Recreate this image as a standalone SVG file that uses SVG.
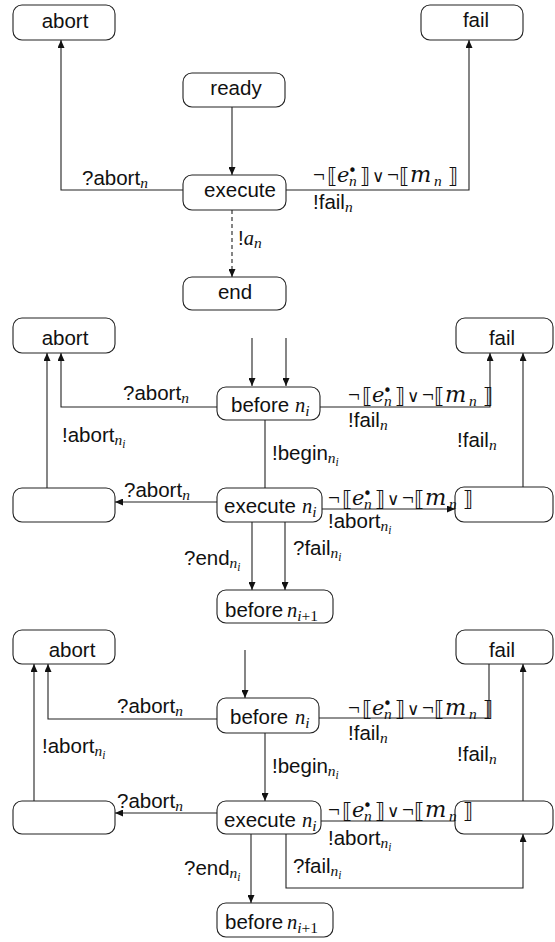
<svg xmlns="http://www.w3.org/2000/svg" width="555" height="942" viewBox="0 0 555 942">
  <style>
    .box { fill: #ffffff; stroke: #222222; stroke-width: 1.1; }
    .edge { fill: none; stroke: #222222; stroke-width: 1.1; }
    .dash { stroke-dasharray: 4 3; }
    text { font-family: "Liberation Sans", Arial, Helvetica, sans-serif; font-size: 20.5px; fill: #111111; }
    .c { text-anchor: middle; }
    .mi { font-family: "Liberation Serif", "DejaVu Serif", serif; font-style: italic; }
    .mw { font-family: "DejaVu Serif", serif; font-style: italic; font-size: 21px; }
    .mm { font-family: "DejaVu Serif", serif; font-style: italic; font-size: 22.5px; }
    .up { font-family: "Liberation Serif", "DejaVu Serif", serif; }
    .br { font-family: "DejaVu Sans", sans-serif; font-size: 21px; }
    .or { font-family: "DejaVu Sans", sans-serif; font-size: 17px; font-weight: 200; }
    .neg { font-family: "Liberation Serif", "DejaVu Serif", serif; font-size: 21px; }
    .bul { font-family: "DejaVu Sans", sans-serif; font-size: 15px; }
    .s1 { font-size: 15.5px; }
    .s2 { font-size: 11.5px; }
  </style>
  <defs>
    <marker id="arr" markerWidth="8" markerHeight="7" refX="8" refY="3.5" orient="auto" markerUnits="userSpaceOnUse">
      <path d="M0,0 L8,3.5 L0,7 z" fill="#111111"/>
    </marker>
  </defs>

  <!-- connectors -->
  <g id="edges">
    <!-- panel 1 -->
    <path class="edge" d="M232,107 V175" marker-end="url(#arr)"/>
    <path class="edge" d="M183,190 H61 V40" marker-end="url(#arr)"/>
    <path class="edge" d="M286,190 H469 V40" marker-end="url(#arr)"/>
    <path class="edge dash" d="M232,210 V277" marker-end="url(#arr)"/>
    <!-- panel 2 -->
    <path class="edge" d="M252,338 V386" marker-end="url(#arr)"/>
    <path class="edge" d="M286,338 V386" marker-end="url(#arr)"/>
    <path class="edge" d="M217,407 H61 V353" marker-end="url(#arr)"/>
    <path class="edge" d="M320,407 H490 V353" marker-end="url(#arr)"/>
    <path class="edge" d="M265,420 V488"/>
    <path class="edge" d="M47,488 V353" marker-end="url(#arr)"/>
    <path class="edge" d="M217,502 H115" marker-end="url(#arr)"/>
    <path class="edge" d="M322,509 H455" marker-end="url(#arr)"/>
    <path class="edge" d="M523,487 V353" marker-end="url(#arr)"/>
    <path class="edge" d="M252,522 V590" marker-end="url(#arr)"/>
    <path class="edge" d="M285,522 V590" marker-end="url(#arr)"/>
    <!-- panel 3 -->
    <path class="edge" d="M245,650 V698" marker-end="url(#arr)"/>
    <path class="edge" d="M217,719 H48 V664" marker-end="url(#arr)"/>
    <path class="edge" d="M319,718 H489 V664"/>
    <path class="edge" d="M265,733 V801" marker-end="url(#arr)"/>
    <path class="edge" d="M34,801 V664" marker-end="url(#arr)"/>
    <path class="edge" d="M217,813 H115" marker-end="url(#arr)"/>
    <path class="edge" d="M321,821 H455"/>
    <path class="edge" d="M523,801 V664" marker-end="url(#arr)"/>
    <path class="edge" d="M251,834 V903" marker-end="url(#arr)"/>
    <path class="edge" d="M286,834 V888 H523 V834" marker-end="url(#arr)"/>
  </g>

  <!-- panel 1 nodes -->
  <g id="p1-abort"><rect class="box" x="13" y="5" width="102" height="35" rx="9"/><text class="c" x="65" y="28">abort</text></g>
  <g id="p1-fail"><rect class="box" x="421" y="5" width="102" height="35" rx="9"/><text class="c" x="476" y="27">fail</text></g>
  <g id="p1-ready"><rect class="box" x="183" y="73" width="102" height="34" rx="9"/><text class="c" x="236" y="95">ready</text></g>
  <g id="p1-execute"><rect class="box" x="183" y="175" width="103" height="35" rx="9"/><text class="c" x="240" y="197">execute</text></g>
  <g id="p1-end"><rect class="box" x="183" y="277" width="103" height="33" rx="9"/><text class="c" x="235" y="299">end</text></g>

  <!-- panel 2 nodes -->
  <g id="p2-abort"><rect class="box" x="13" y="318" width="102" height="35" rx="9"/><text class="c" x="65" y="345">abort</text></g>
  <g id="p2-fail"><rect class="box" x="456" y="318" width="97" height="35" rx="9"/><text class="c" x="502" y="345">fail</text></g>
  <g id="p2-before"><rect class="box" x="217" y="387" width="103" height="33" rx="9"/><text x="231" y="412">before<tspan class="mi" x="295">n</tspan><tspan class="mi s1" dy="4">i</tspan></text></g>
  <g id="p2-aborted"><rect class="box" x="13" y="488" width="102" height="34" rx="9"/></g>
  <g id="p2-execute"><rect class="box" x="217" y="488" width="105" height="34" rx="9"/><text x="224" y="513">execute<tspan class="mi" x="302">n</tspan><tspan class="mi s1" dy="4">i</tspan></text></g>
  <g id="p2-failed"><rect class="box" x="455" y="487" width="98" height="35" rx="9"/></g>
  <g id="p2-next"><rect class="box" x="217" y="590" width="116" height="33" rx="9"/><text x="225" y="617">before<tspan class="mi" x="287">n</tspan><tspan class="mi s1" dy="4">i</tspan><tspan class="up s1">+1</tspan></text></g>

  <!-- panel 3 nodes -->
  <g id="p3-abort"><rect class="box" x="13" y="630" width="102" height="34" rx="9"/><text class="c" x="72" y="657">abort</text></g>
  <g id="p3-fail"><rect class="box" x="456" y="630" width="97" height="34" rx="9"/><text class="c" x="502" y="657">fail</text></g>
  <g id="p3-before"><rect class="box" x="217" y="698" width="102" height="35" rx="9"/><text x="230" y="724">before<tspan class="mi" x="295">n</tspan><tspan class="mi s1" dy="4">i</tspan></text></g>
  <g id="p3-aborted"><rect class="box" x="13" y="801" width="102" height="33" rx="9"/></g>
  <g id="p3-execute"><rect class="box" x="217" y="801" width="104" height="33" rx="9"/><text x="224" y="827">execute<tspan class="mi" x="302">n</tspan><tspan class="mi s1" dy="4">i</tspan></text></g>
  <g id="p3-failed"><rect class="box" x="455" y="801" width="98" height="33" rx="9"/></g>
  <g id="p3-next"><rect class="box" x="217" y="903" width="116" height="34" rx="9"/><text x="225" y="929">before<tspan class="mi" x="287">n</tspan><tspan class="mi s1" dy="4">i</tspan><tspan class="up s1">+1</tspan></text></g>

  <!-- edge labels -->
  <g id="labels">
    <!-- panel 1 -->
    <text x="82" y="185">?abort<tspan class="mi s1" dy="3">n</tspan></text>
    <text transform="translate(313,182)"><tspan class="neg" x="0" y="0">¬</tspan><tspan class="br" x="14" y="1">⟦</tspan><tspan class="mw" x="24" y="0">e</tspan><tspan class="bul" x="35" y="-6">•</tspan><tspan class="mi s1" x="36" y="4">n</tspan><tspan class="br" x="47" y="1">⟧</tspan><tspan class="or" x="59" y="0">∨</tspan><tspan class="neg" x="74" y="0">¬</tspan><tspan class="br" x="86" y="1">⟦</tspan><tspan class="mm" x="97" y="0">m</tspan><tspan class="mi s1" x="121" y="4">n</tspan><tspan class="br" x="135" y="1">⟧</tspan></text>
    <text x="313" y="209">!fail<tspan class="mi s1" dy="3">n</tspan></text>
    <text x="238" y="245">!<tspan class="mi">a</tspan><tspan class="mi s1" dy="3">n</tspan></text>

    <!-- panel 2 -->
    <text x="123" y="400">?abort<tspan class="mi s1" dy="3">n</tspan></text>
    <text transform="translate(348,402)"><tspan class="neg" x="0" y="0">¬</tspan><tspan class="br" x="14" y="1">⟦</tspan><tspan class="mw" x="24" y="0">e</tspan><tspan class="bul" x="35" y="-6">•</tspan><tspan class="mi s1" x="36" y="4">n</tspan><tspan class="br" x="47" y="1">⟧</tspan><tspan class="or" x="59" y="0">∨</tspan><tspan class="neg" x="74" y="0">¬</tspan><tspan class="br" x="86" y="1">⟦</tspan><tspan class="mm" x="97" y="0">m</tspan><tspan class="mi s1" x="121" y="4">n</tspan><tspan class="br" x="135" y="1">⟧</tspan></text>
    <text x="348" y="427">!fail<tspan class="mi s1" dy="3">n</tspan></text>
    <text x="62" y="442">!abort<tspan class="mi s1" dy="3">n</tspan><tspan class="mi s2" dy="3">i</tspan></text>
    <text x="457" y="447">!fail<tspan class="mi s1" dy="3">n</tspan></text>
    <text x="272" y="460">!begin<tspan class="mi s1" dy="3">n</tspan><tspan class="mi s2" dy="3">i</tspan></text>
    <text x="124" y="497">?abort<tspan class="mi s1" dy="3">n</tspan></text>
    <text transform="translate(328,505)"><tspan class="neg" x="0" y="0">¬</tspan><tspan class="br" x="14" y="1">⟦</tspan><tspan class="mw" x="24" y="0">e</tspan><tspan class="bul" x="35" y="-6">•</tspan><tspan class="mi s1" x="36" y="4">n</tspan><tspan class="br" x="47" y="1">⟧</tspan><tspan class="or" x="59" y="0">∨</tspan><tspan class="neg" x="74" y="0">¬</tspan><tspan class="br" x="86" y="1">⟦</tspan><tspan class="mm" x="97" y="0">m</tspan><tspan class="mi s1" x="121" y="4">n</tspan><tspan class="br" x="135" y="1">⟧</tspan></text>
    <text x="328" y="528">!abort<tspan class="mi s1" dy="3">n</tspan><tspan class="mi s2" dy="3">i</tspan></text>
    <text x="293" y="555">?fail<tspan class="mi s1" dy="3">n</tspan><tspan class="mi s2" dy="3">i</tspan></text>
    <text x="184" y="565">?end<tspan class="mi s1" dy="3">n</tspan><tspan class="mi s2" dy="3">i</tspan></text>

    <!-- panel 3 -->
    <text x="117" y="713">?abort<tspan class="mi s1" dy="3">n</tspan></text>
    <text transform="translate(348,715)"><tspan class="neg" x="0" y="0">¬</tspan><tspan class="br" x="14" y="1">⟦</tspan><tspan class="mw" x="24" y="0">e</tspan><tspan class="bul" x="35" y="-6">•</tspan><tspan class="mi s1" x="36" y="4">n</tspan><tspan class="br" x="47" y="1">⟧</tspan><tspan class="or" x="59" y="0">∨</tspan><tspan class="neg" x="74" y="0">¬</tspan><tspan class="br" x="86" y="1">⟦</tspan><tspan class="mm" x="97" y="0">m</tspan><tspan class="mi s1" x="121" y="4">n</tspan><tspan class="br" x="135" y="1">⟧</tspan></text>
    <text x="348" y="740">!fail<tspan class="mi s1" dy="3">n</tspan></text>
    <text x="42" y="753">!abort<tspan class="mi s1" dy="3">n</tspan><tspan class="mi s2" dy="3">i</tspan></text>
    <text x="457" y="761">!fail<tspan class="mi s1" dy="3">n</tspan></text>
    <text x="272" y="773">!begin<tspan class="mi s1" dy="3">n</tspan><tspan class="mi s2" dy="3">i</tspan></text>
    <text x="117" y="808">?abort<tspan class="mi s1" dy="3">n</tspan></text>
    <text transform="translate(328,817)"><tspan class="neg" x="0" y="0">¬</tspan><tspan class="br" x="14" y="1">⟦</tspan><tspan class="mw" x="24" y="0">e</tspan><tspan class="bul" x="35" y="-6">•</tspan><tspan class="mi s1" x="36" y="4">n</tspan><tspan class="br" x="47" y="1">⟧</tspan><tspan class="or" x="59" y="0">∨</tspan><tspan class="neg" x="74" y="0">¬</tspan><tspan class="br" x="86" y="1">⟦</tspan><tspan class="mm" x="97" y="0">m</tspan><tspan class="mi s1" x="121" y="4">n</tspan><tspan class="br" x="135" y="1">⟧</tspan></text>
    <text x="328" y="845">!abort<tspan class="mi s1" dy="3">n</tspan><tspan class="mi s2" dy="3">i</tspan></text>
    <text x="293" y="873">?fail<tspan class="mi s1" dy="3">n</tspan><tspan class="mi s2" dy="3">i</tspan></text>
    <text x="184" y="875">?end<tspan class="mi s1" dy="3">n</tspan><tspan class="mi s2" dy="3">i</tspan></text>
  </g>
</svg>
